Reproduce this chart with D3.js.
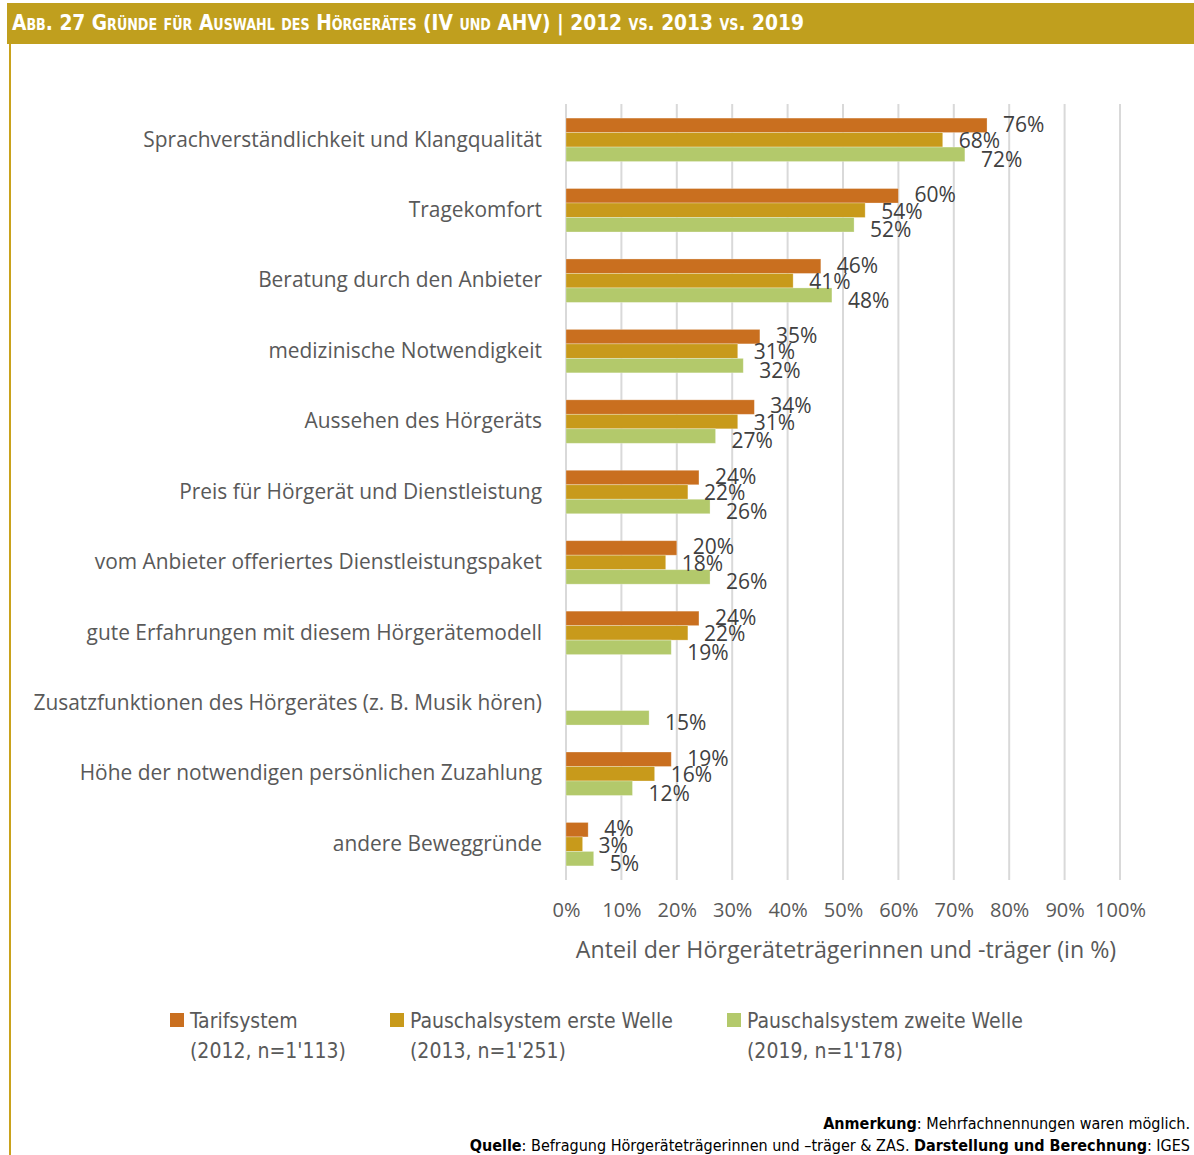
<!DOCTYPE html>
<html lang="de">
<head>
<meta charset="utf-8">
<title>Gründe für Auswahl des Hörgerätes</title>
<script src="https://cdn.jsdelivr.net/npm/d3@7"></script>
<style>
  html, body { margin: 0; padding: 0; background: #fff; }
  svg { display: block; }
  .cond { font-family: "Liberation Sans Narrow", "DejaVu Sans Condensed", "Open Sans", sans-serif; }
  .os { font-family: "Open Sans", "Noto Sans", sans-serif; }
</style>
</head>
<body>
<svg id="chart" width="1194" height="1155"></svg>
<script>
// Reasons for choosing the hearing aid, share in percent per survey wave
const categories = [
  "Sprachverständlichkeit und Klangqualität",
  "Tragekomfort",
  "Beratung durch den Anbieter",
  "medizinische Notwendigkeit",
  "Aussehen des Hörgeräts",
  "Preis für Hörgerät und Dienstleistung",
  "vom Anbieter offeriertes Dienstleistungspaket",
  "gute Erfahrungen mit diesem Hörgerätemodell",
  "Zusatzfunktionen des Hörgerätes (z. B. Musik hören)",
  "Höhe der notwendigen persönlichen Zuzahlung",
  "andere Beweggründe"
];
const tarif2012     = [76, 60, 46, 35, 34, 24, 20, 24, null, 19, 4];
const pauschal2013  = [68, 54, 41, 31, 31, 22, 18, 22, null, 16, 3];
const pauschal2019  = [72, 52, 48, 32, 27, 26, 26, 19, 15, 12, 5];

const seriesNames = ["Tarifsystem", "Pauschalsystem erste Welle", "Pauschalsystem zweite Welle"];
const seriesSub   = ["(2012, n=1'113)", "(2013, n=1'251)", "(2019, n=1'178)"];
const seriesColors = ["#C96F1F", "#C89A1B", "#B3C96B"];
const tickValues = [0, 10, 20, 30, 40, 50, 60, 70, 80, 90, 100];

const seriesValues = [tarif2012, pauschal2013, pauschal2019];
const gold = "#C09F1E";
const textGrey = "#595959";

const svg = d3.select("#chart");

// Header band and left rule
svg.append("rect").attr("x", 7).attr("y", 3).attr("width", 1187).attr("height", 41).attr("fill", gold);
svg.append("rect").attr("x", 9).attr("y", 44).attr("width", 2).attr("height", 1111).attr("fill", "#C9A21C");
svg.append("text")
  .attr("class", "cond")
  .attr("x", 12).attr("y", 30)
  .attr("fill", "#fff")
  .attr("font-size", 22).attr("font-weight", "bold")
  .style("font-variant", "small-caps")
  .attr("textLength", 792).attr("lengthAdjust", "spacingAndGlyphs")
  .text("Abb. 27   Gründe für Auswahl des Hörgerätes (IV und AHV) | 2012 vs. 2013 vs. 2019");

// Scales
const x = d3.scaleLinear().domain([0, 100]).range([566, 1120]);
const y = d3.scaleBand().domain(categories).range([104, 880]).paddingInner(0.383).paddingOuter(0.2);
const ySub = d3.scaleBand().domain(d3.range(3)).range([0, y.bandwidth()]);

// Vertical gridlines
svg.append("g")
  .selectAll("line")
  .data(tickValues)
  .join("line")
  .attr("x1", d => x(d)).attr("x2", d => x(d))
  .attr("y1", 104).attr("y2", 880)
  .attr("stroke", "#D9D9D9").attr("stroke-width", 2);

// X axis tick labels
const xAxis = d3.axisBottom(x).tickValues(tickValues).tickFormat(d => d + "%").tickSize(0).tickPadding(0);
const xg = svg.append("g").attr("transform", "translate(0,903)").call(xAxis);
xg.select(".domain").remove();
xg.selectAll("text")
  .attr("class", "os")
  .attr("font-size", 20)
  .attr("fill", textGrey)
  .attr("dy", "0.71em");

// Axis title
svg.append("text")
  .attr("class", "os")
  .attr("x", x(50) + 3).attr("y", 958)
  .attr("text-anchor", "middle")
  .attr("font-size", 23.2)
  .attr("fill", textGrey)
  .text("Anteil der Hörgeräteträgerinnen und -träger (in %)");

// Category labels
const yAxis = d3.axisLeft(y).tickSize(0).tickPadding(0);
const yg = svg.append("g").attr("transform", "translate(542,0)").call(yAxis);
yg.select(".domain").remove();
yg.selectAll("text")
  .attr("class", "os")
  .attr("font-size", 20.9)
  .attr("fill", textGrey);

// Bars and value labels
const rows = [];
categories.forEach((c, i) => {
  seriesValues.forEach((vals, s) => {
    if (vals[i] != null) rows.push({ cat: c, s, v: vals[i] });
  });
});

// vertical nudge of the value labels per series, so the three stack apart
const labelDy = [-1, 1, 5];

svg.append("g")
  .selectAll("rect")
  .data(rows)
  .join("rect")
  .attr("x", x(0))
  .attr("y", d => y(d.cat) + ySub(d.s))
  .attr("width", d => x(d.v) - x(0))
  .attr("height", ySub.bandwidth())
  .attr("fill", d => seriesColors[d.s])
  .attr("stroke", "rgba(255,255,255,0.35)")
  .attr("stroke-width", 0.8);

svg.append("g")
  .selectAll("text")
  .data(rows)
  .join("text")
  .attr("class", "os")
  .attr("x", d => x(d.v) + 16)
  .attr("y", d => y(d.cat) + ySub(d.s) + ySub.bandwidth() / 2 + labelDy[d.s])
  .attr("dy", "0.35em")
  .attr("font-size", 21)
  .attr("fill", "#404040")
  .text(d => d.v + "%");

// Legend
const legendX = [170, 390, 727];
const lg = svg.append("g")
  .selectAll("g")
  .data(seriesNames)
  .join("g")
  .attr("transform", (d, i) => `translate(${legendX[i]},0)`);
lg.append("rect")
  .attr("x", 0).attr("y", 1013).attr("width", 14).attr("height", 14)
  .attr("fill", (d, i) => seriesColors[i]);
lg.append("text")
  .attr("class", "cond")
  .attr("x", 20).attr("y", 1028)
  .attr("font-size", 21)
  .attr("fill", textGrey)
  .text(d => d);
lg.append("text")
  .attr("class", "cond")
  .attr("x", 20).attr("y", 1058)
  .attr("font-size", 21)
  .attr("fill", textGrey)
  .text((d, i) => seriesSub[i]);

// Footnotes
const foot1 = svg.append("text")
  .attr("class", "cond")
  .attr("x", 1190).attr("y", 1129)
  .attr("text-anchor", "end")
  .attr("font-size", 16)
  .attr("fill", "#000");
foot1.append("tspan").attr("font-weight", "bold").text("Anmerkung");
foot1.append("tspan").text(": Mehrfachnennungen waren möglich.");

const foot2 = svg.append("text")
  .attr("class", "cond")
  .attr("x", 1190).attr("y", 1151)
  .attr("text-anchor", "end")
  .attr("font-size", 16)
  .attr("fill", "#000");
foot2.append("tspan").attr("font-weight", "bold").text("Quelle");
foot2.append("tspan").text(": Befragung Hörgeräteträgerinnen und –träger & ZAS. ");
foot2.append("tspan").attr("font-weight", "bold").text("Darstellung und Berechnung");
foot2.append("tspan").text(": IGES");
</script>
</body>
</html>
